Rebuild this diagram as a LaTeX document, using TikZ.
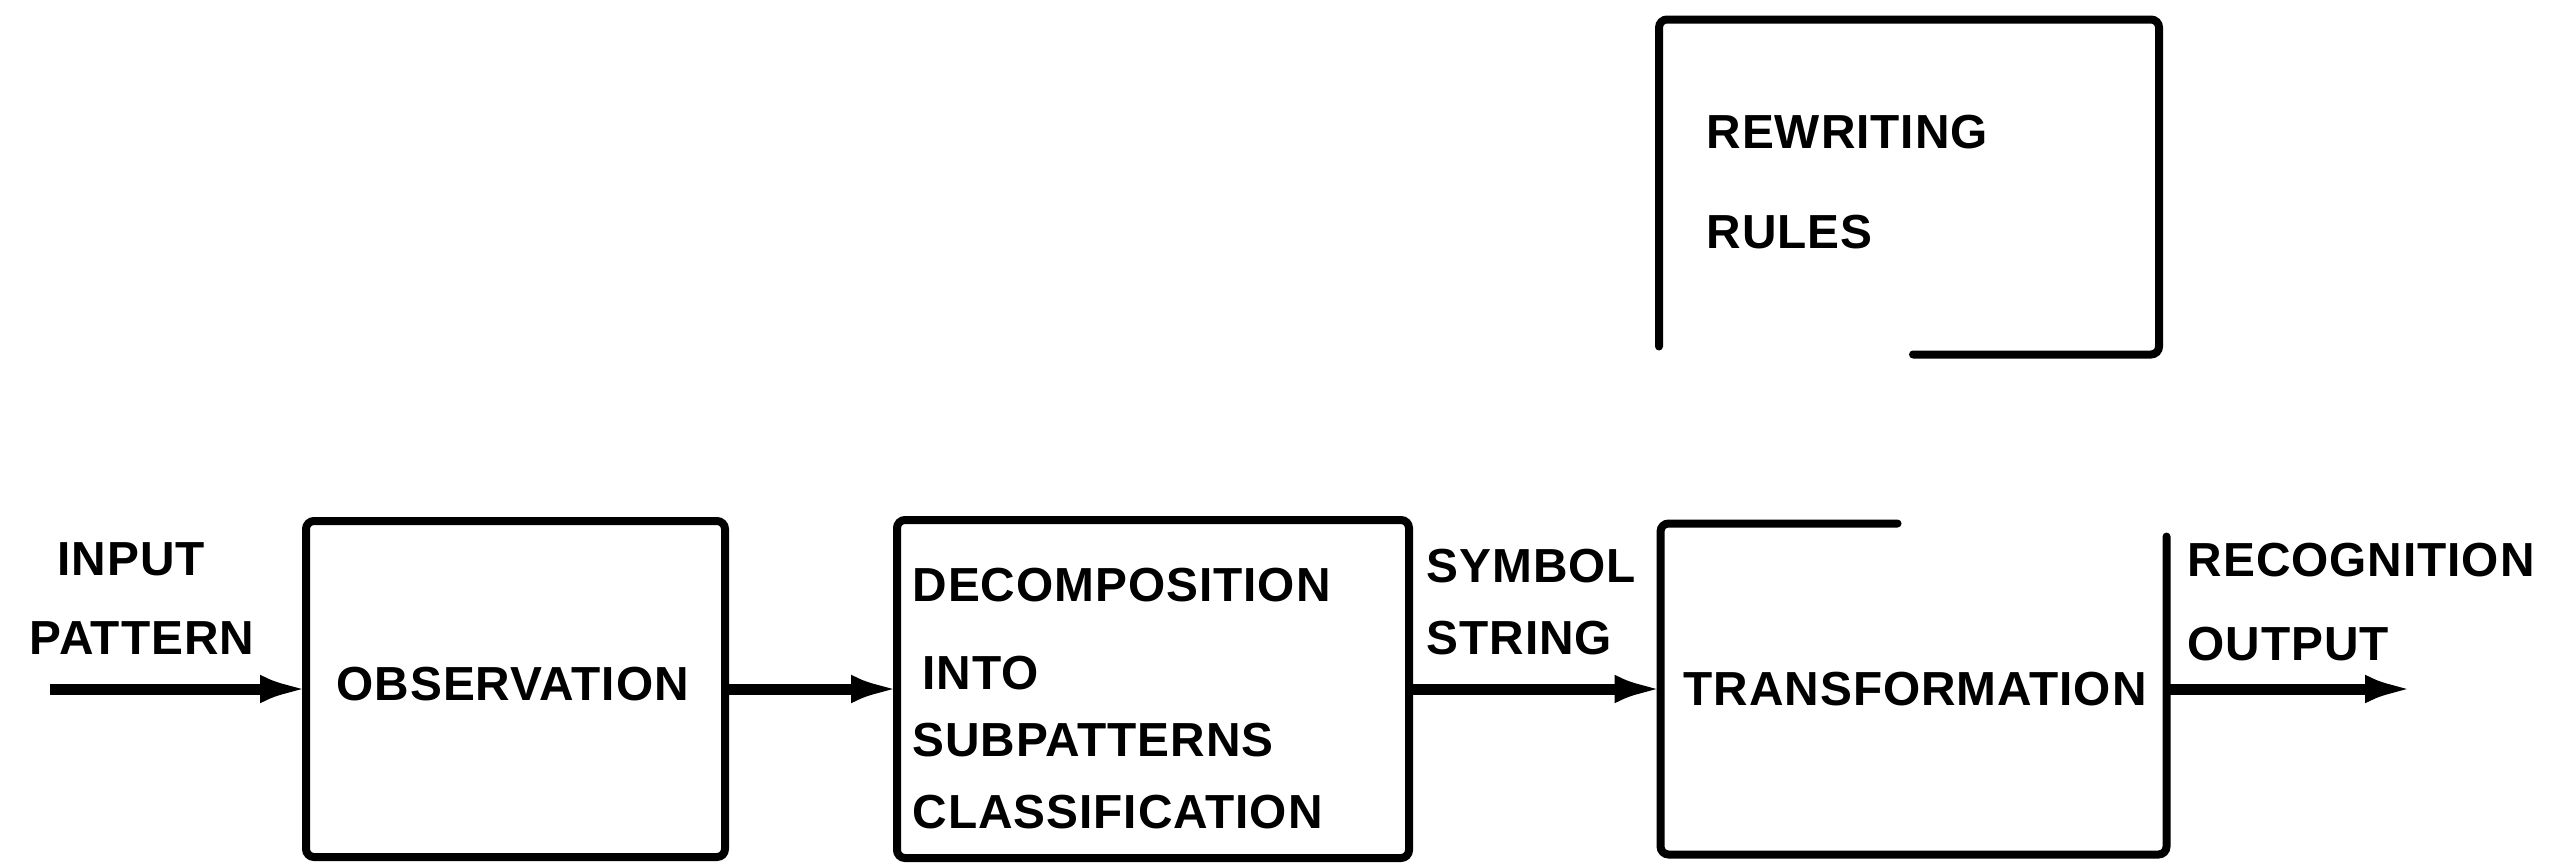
\documentclass[tikz,border=0pt]{standalone}
\usepackage{fontspec}
\setmainfont{Liberation Sans}[LetterSpace=2]
\usetikzlibrary{arrows.meta}
\begin{document}
\begin{tikzpicture}[x=0.1mm,y=-0.1mm,
  blk/.style={draw, line width=0.8mm, rounded corners=0.8mm, inner sep=0pt, outer sep=0pt},
  openblk/.style={inner sep=0pt, outer sep=0pt},
  bline/.style={line width=0.8mm, rounded corners=0.8mm, line cap=round},
  lbl/.style={anchor=west, inner sep=0pt, font=\fontsize{13.6}{16}\selectfont\bfseries},
  arr/.style={line width=1.1mm, shorten >=-0.4mm, -{Latex[length=5mm,width=2.8mm]}}]
\useasboundingbox (0,0) rectangle (2565,865);
% blocks
\node[blk, minimum width=41.9mm, minimum height=33.6mm] (obs) at (515.5,689) {};
\node[blk, minimum width=51.2mm, minimum height=33.8mm] (dec) at (1153,689) {};
\node[openblk, minimum width=50.6mm, minimum height=33.1mm] (tr) at (1913.5,689) {};
\node[openblk, minimum width=50mm, minimum height=33.5mm] (rw) at (1909,187) {};
% partial borders
\draw[bline] ([xshift=23.7mm]tr.north west) -- (tr.north west) -- (tr.south west)
  -- (tr.south east) -- ([yshift=-1.3mm]tr.north east);
\draw[bline] ([yshift=0.8mm]rw.south west) -- (rw.north west) -- (rw.north east)
  -- (rw.south east) -- ([xshift=-24.6mm]rw.south east);
% labels
\node[lbl] (tin1) at (57,559) {INPUT};
\node[lbl] (tin2) at (29,638) {PATTERN};
\node[lbl] (tobs) at (336,684) {OBSERVATION};
\node[lbl] (td1) at (912,585) {DECOMPOSITION};
\node[lbl] (td2) at (922,673) {INTO};
\node[lbl] (td3) at (912,740) {SUBPATTERNS};
\node[lbl] (td4) at (912,812) {CLASSIFICATION};
\node[lbl] (ts1) at (1426,566) {SYMBOL};
\node[lbl] (ts2) at (1426,638) {STRING};
\node[lbl] (ttr) at (1683,689) {TRANSFORMATION};
\node[lbl] (trc1) at (2187,560) {RECOGNITION};
\node[lbl] (trc2) at (2187,644) {OUTPUT};
\node[lbl] (trw1) at (1706,132) {REWRITING};
\node[lbl] (trw2) at (1706,232) {RULES};
% connectors
\coordinate (in) at (50,689);
\coordinate (out) at (2411,689);
\draw[arr] (in) -- (obs.west);
\draw[arr] (obs.east) -- (dec.west);
\draw[arr] (dec.east) -- (tr.west);
\draw[arr] (tr.east) -- (out);
\end{tikzpicture}
\end{document}
